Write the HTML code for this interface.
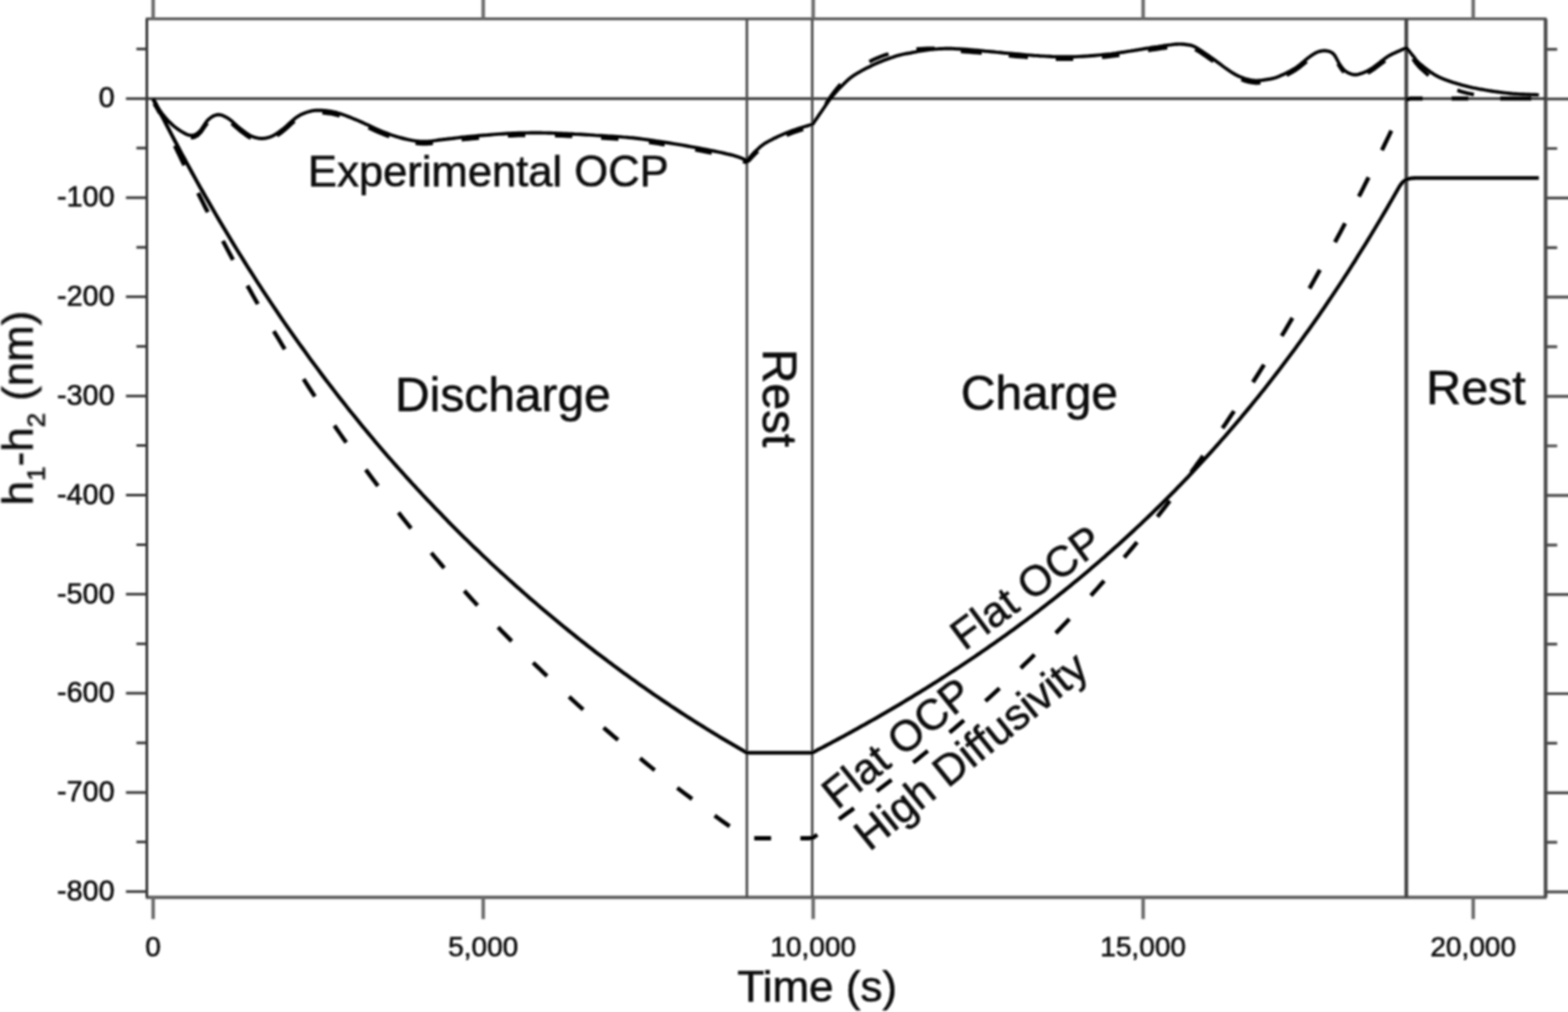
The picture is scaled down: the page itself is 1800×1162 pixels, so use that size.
<!DOCTYPE html>
<html lang="en"><head><meta charset="utf-8"><title>h1-h2 vs Time</title>
<style>
html,body{margin:0;padding:0;background:#fff;}
body{width:1800px;height:1162px;overflow:hidden;}
svg{display:block;}
text{font-family:"Liberation Sans",Arial,Helvetica,sans-serif;fill:#111111;stroke:#111111;stroke-width:0.7;}
.ax{stroke:#333333;stroke-width:3.0;fill:none;}
.thin{stroke:#333333;stroke-width:2.4;fill:none;}
.cv{stroke:#000000;stroke-width:4.3;fill:none;stroke-linejoin:round;stroke-linecap:butt;}
.tk{font-size:33px;}
.lb{font-size:49px;}
.rg{font-size:55px;}
</style></head><body>
<svg width="1800" height="1162" viewBox="0 0 1800 1162">
<defs><filter id="b" filterUnits="userSpaceOnUse" x="-20" y="-20" width="1840" height="1202"><feGaussianBlur stdDeviation="1.1"/></filter></defs>
<rect width="1800" height="1162" fill="#fff"/>
<g filter="url(#b)">
<path d="M167.4,21.7 H1775.5" fill="none" stroke="#585858" stroke-width="3.3"/>
<path d="M167.4,1030.3 H1775.5" fill="none" stroke="#5a5a5a" stroke-width="3.8"/>
<path d="M168.6,21.7 V1030.3" fill="none" stroke="#303030" stroke-width="3.0"/>
<path d="M1774.3,21.7 V1030.3" fill="none" stroke="#484848" stroke-width="4.2"/>
<path d="M168.6,113.2 H1774.3" fill="none" stroke="#303030" stroke-width="3.0"/>
<path d="M175.8,-8 V21.7 M175.8,1030.3 V1055.2 M554.7,-8 V21.7 M554.7,1030.3 V1055.2 M933.5,-8 V21.7 M933.5,1030.3 V1055.2 M1312.3,-8 V21.7 M1312.3,1030.3 V1055.2 M1691.2,-8 V21.7 M1691.2,1030.3 V1055.2" fill="none" stroke="#6a6a6a" stroke-width="4.0"/>
<path d="M156.6,56.3 H168.6 M144.6,113.2 H168.6 M156.6,170.1 H168.6 M144.6,227.0 H168.6 M156.6,283.9 H168.6 M144.6,340.8 H168.6 M156.6,397.7 H168.6 M144.6,454.7 H168.6 M156.6,511.6 H168.6 M144.6,568.5 H168.6 M156.6,625.4 H168.6 M144.6,682.3 H168.6 M156.6,739.2 H168.6 M144.6,796.1 H168.6 M156.6,853.0 H168.6 M144.6,909.9 H168.6 M156.6,966.8 H168.6 M144.6,1023.8 H168.6" fill="none" stroke="#383838" stroke-width="3.0"/>
<path d="M1774.3,56.7 H1787.6 M1774.3,113.6 H1808 M1774.3,170.5 H1787.6 M1774.3,227.4 H1808 M1774.3,284.3 H1787.6 M1774.3,341.2 H1808 M1774.3,398.1 H1787.6 M1774.3,455.1 H1808 M1774.3,512.0 H1787.6 M1774.3,568.9 H1808 M1774.3,625.8 H1787.6 M1774.3,682.7 H1808 M1774.3,739.6 H1787.6 M1774.3,796.5 H1808 M1774.3,853.4 H1787.6 M1774.3,910.3 H1808 M1774.3,967.2 H1787.6 M1774.3,1024.2 H1808" fill="none" stroke="#484848" stroke-width="3.2"/>
<path d="M857.4,21.7 V1030.3 M932.4,21.7 V1030.3" fill="none" stroke="#505050" stroke-width="3.0"/>
<path d="M1614.4,21.7 V1030.3" fill="none" stroke="#404040" stroke-width="4.2"/>
<text class="tk" x="131.5" y="123.4" text-anchor="end">0</text>
<text class="tk" x="131.5" y="237.2" text-anchor="end">-100</text>
<text class="tk" x="131.5" y="351.0" text-anchor="end">-200</text>
<text class="tk" x="131.5" y="464.9" text-anchor="end">-300</text>
<text class="tk" x="131.5" y="578.7" text-anchor="end">-400</text>
<text class="tk" x="131.5" y="692.5" text-anchor="end">-500</text>
<text class="tk" x="131.5" y="806.3" text-anchor="end">-600</text>
<text class="tk" x="131.5" y="920.1" text-anchor="end">-700</text>
<text class="tk" x="131.5" y="1034.0" text-anchor="end">-800</text>
<text class="tk" x="175.8" y="1097.5" text-anchor="middle" style="font-size:32.2px">0</text>
<text class="tk" x="554.7" y="1097.5" text-anchor="middle" style="font-size:32.2px">5,000</text>
<text class="tk" x="933.5" y="1097.5" text-anchor="middle" style="font-size:32.2px">10,000</text>
<text class="tk" x="1312.3" y="1097.5" text-anchor="middle" style="font-size:32.2px">15,000</text>
<text class="tk" x="1691.2" y="1097.5" text-anchor="middle" style="font-size:32.2px">20,000</text>
<text class="lb" x="938.2" y="1150.2" text-anchor="middle" style="font-size:50.5px">Time (s)</text>
<text class="lb" transform="translate(37.5,468.5) rotate(-90)" text-anchor="middle" style="font-size:50.3px">h<tspan font-size="30" dy="13.5">1</tspan><tspan dy="-13.5">-h</tspan><tspan font-size="30" dy="13.5">2</tspan><tspan dy="-13.5"> (nm)</tspan></text>
<text class="lb" x="353.6" y="214.2" style="font-size:50px">Experimental OCP</text>
<text class="rg" x="453.5" y="472">Discharge</text>
<text class="rg" x="1103" y="469.7">Charge</text>
<text class="rg" x="1637.3" y="463.7" style="font-size:55.5px">Rest</text>
<text class="rg" transform="translate(876,400.5) rotate(90)">Rest</text>
<text class="lb" transform="translate(1107,748) rotate(-36.5)">Flat OCP</text>
<text class="lb" transform="translate(961,930.5) rotate(-39)" style="font-size:49.6px">Flat OCP</text>
<text class="lb" transform="translate(998,978.3) rotate(-39)" style="font-size:49.6px">High Diffusivity</text>
<path class="cv" d="M175.8,113.2L178.8,119.2L181.8,125.1L184.8,131.0L187.8,136.9L190.8,142.7L193.8,148.5L196.8,154.2L199.8,159.9L202.8,165.6L205.8,171.3L208.8,176.9L211.8,182.4L214.8,188.0L217.8,193.4L220.8,198.9L223.8,204.3L226.8,209.7L229.8,215.1L232.9,220.4L235.9,225.7L238.9,230.9L241.9,236.1L244.9,241.3L247.9,246.5L250.9,251.6L253.9,256.7L256.9,261.7L259.9,266.7L262.9,271.7L265.9,276.7L268.9,281.6L271.9,286.5L274.9,291.4L277.9,296.2L280.9,301.0L283.9,305.8L286.9,310.5L289.9,315.2L292.9,319.9L295.9,324.6L298.9,329.2L301.9,333.8L304.9,338.4L307.9,342.9L310.9,347.4L313.9,351.9L316.9,356.3L319.9,360.8L322.9,365.2L325.9,369.6L328.9,373.9L331.9,378.2L334.9,382.5L337.9,386.8L340.9,391.0L343.9,395.2L347.0,399.4L350.0,403.6L353.0,407.7L356.0,411.9L359.0,416.0L362.0,420.0L365.0,424.1L368.0,428.1L371.0,432.1L374.0,436.1L377.0,440.0L380.0,443.9L383.0,447.8L386.0,451.7L389.0,455.6L392.0,459.4L395.0,463.2L398.0,467.0L401.0,470.8L404.0,474.5L407.0,478.2L410.0,481.9L413.0,485.6L416.0,489.3L419.0,492.9L422.0,496.5L425.0,500.1L428.0,503.7L431.0,507.3L434.0,510.8L437.0,514.3L440.0,517.8L443.0,521.3L446.0,524.8L449.0,528.2L452.0,531.6L455.0,535.0L458.0,538.4L461.1,541.8L464.1,545.1L467.1,548.5L470.1,551.8L473.1,555.1L476.1,558.3L479.1,561.6L482.1,564.8L485.1,568.1L488.1,571.3L491.1,574.5L494.1,577.6L497.1,580.8L500.1,583.9L503.1,587.0L506.1,590.1L509.1,593.2L512.1,596.3L515.1,599.4L518.1,602.4L521.1,605.4L524.1,608.4L527.1,611.4L530.1,614.4L533.1,617.4L536.1,620.3L539.1,623.2L542.1,626.2L545.1,629.1L548.1,631.9L551.1,634.8L554.1,637.7L557.1,640.5L560.1,643.3L563.1,646.2L566.1,649.0L569.1,651.8L572.1,654.5L575.2,657.3L578.2,660.0L581.2,662.8L584.2,665.5L587.2,668.2L590.2,670.9L593.2,673.6L596.2,676.2L599.2,678.9L602.2,681.5L605.2,684.1L608.2,686.8L611.2,689.4L614.2,691.9L617.2,694.5L620.2,697.1L623.2,699.6L626.2,702.2L629.2,704.7L632.2,707.2L635.2,709.7L638.2,712.2L641.2,714.7L644.2,717.2L647.2,719.6L650.2,722.0L653.2,724.5L656.2,726.9L659.2,729.3L662.2,731.7L665.2,734.1L668.2,736.5L671.2,738.8L674.2,741.2L677.2,743.5L680.2,745.8L683.2,748.2L686.2,750.5L689.3,752.8L692.3,755.0L695.3,757.3L698.3,759.6L701.3,761.8L704.3,764.1L707.3,766.3L710.3,768.5L713.3,770.7L716.3,772.9L719.3,775.1L722.3,777.3L725.3,779.4L728.3,781.6L731.3,783.7L734.3,785.9L737.3,788.0L740.3,790.1L743.3,792.2L746.3,794.3L749.3,796.4L752.3,798.5L755.3,800.5L758.3,802.6L761.3,804.6L764.3,806.6L767.3,808.6L770.3,810.7L773.3,812.6L776.3,814.6L779.3,816.6L782.3,818.6L785.3,820.5L788.3,822.5L791.3,824.4L794.3,826.3L797.3,828.2L800.3,830.1L803.4,832.0L806.4,833.9L809.4,835.8L812.4,837.7L815.4,839.5L818.4,841.3L821.4,843.2L824.4,845.0L827.4,846.8L830.4,848.6L833.4,850.4L836.4,852.2L839.4,853.9L842.4,855.7L845.4,857.4L848.4,859.2L851.4,860.9L854.4,862.6L857.4,864.3L857.4,864.3L932.4,864.3L935.4,862.8L938.4,861.2L941.4,859.6L944.4,858.1L947.4,856.5L950.4,854.9L953.4,853.3L956.4,851.7L959.4,850.1L962.4,848.5L965.4,846.9L968.4,845.3L971.4,843.7L974.4,842.0L977.4,840.4L980.4,838.7L983.3,837.1L986.3,835.4L989.3,833.7L992.3,832.1L995.3,830.4L998.3,828.7L1001.3,827.0L1004.3,825.3L1007.3,823.6L1010.3,821.8L1013.3,820.1L1016.3,818.4L1019.3,816.6L1022.3,814.9L1025.3,813.1L1028.3,811.3L1031.3,809.6L1034.3,807.8L1037.3,806.0L1040.3,804.2L1043.3,802.4L1046.3,800.6L1049.3,798.7L1052.3,796.9L1055.3,795.1L1058.3,793.2L1061.3,791.4L1064.3,789.5L1067.3,787.6L1070.3,785.7L1073.3,783.9L1076.3,782.0L1079.2,780.1L1082.2,778.1L1085.2,776.2L1088.2,774.3L1091.2,772.3L1094.2,770.4L1097.2,768.4L1100.2,766.5L1103.2,764.5L1106.2,762.5L1109.2,760.5L1112.2,758.5L1115.2,756.5L1118.2,754.5L1121.2,752.4L1124.2,750.4L1127.2,748.3L1130.2,746.3L1133.2,744.2L1136.2,742.1L1139.2,740.0L1142.2,737.9L1145.2,735.8L1148.2,733.7L1151.2,731.6L1154.2,729.4L1157.2,727.3L1160.2,725.1L1163.2,722.9L1166.2,720.7L1169.2,718.5L1172.2,716.3L1175.1,714.1L1178.1,711.9L1181.1,709.6L1184.1,707.4L1187.1,705.1L1190.1,702.9L1193.1,700.6L1196.1,698.3L1199.1,696.0L1202.1,693.6L1205.1,691.3L1208.1,689.0L1211.1,686.6L1214.1,684.2L1217.1,681.8L1220.1,679.5L1223.1,677.0L1226.1,674.6L1229.1,672.2L1232.1,669.7L1235.1,667.3L1238.1,664.8L1241.1,662.3L1244.1,659.8L1247.1,657.3L1250.1,654.8L1253.1,652.2L1256.1,649.7L1259.1,647.1L1262.1,644.5L1265.1,641.9L1268.1,639.3L1271.0,636.7L1274.0,634.1L1277.0,631.4L1280.0,628.7L1283.0,626.1L1286.0,623.4L1289.0,620.6L1292.0,617.9L1295.0,615.2L1298.0,612.4L1301.0,609.6L1304.0,606.8L1307.0,604.0L1310.0,601.2L1313.0,598.3L1316.0,595.5L1319.0,592.6L1322.0,589.7L1325.0,586.8L1328.0,583.9L1331.0,580.9L1334.0,578.0L1337.0,575.0L1340.0,572.0L1343.0,569.0L1346.0,566.0L1349.0,562.9L1352.0,559.8L1355.0,556.8L1358.0,553.6L1361.0,550.5L1364.0,547.4L1366.9,544.2L1369.9,541.0L1372.9,537.8L1375.9,534.6L1378.9,531.4L1381.9,528.1L1384.9,524.8L1387.9,521.5L1390.9,518.2L1393.9,514.9L1396.9,511.5L1399.9,508.1L1402.9,504.7L1405.9,501.3L1408.9,497.8L1411.9,494.4L1414.9,490.9L1417.9,487.4L1420.9,483.8L1423.9,480.3L1426.9,476.7L1429.9,473.1L1432.9,469.5L1435.9,465.8L1438.9,462.2L1441.9,458.5L1444.9,454.8L1447.9,451.0L1450.9,447.3L1453.9,443.5L1456.9,439.7L1459.9,435.8L1462.8,432.0L1465.8,428.1L1468.8,424.2L1471.8,420.2L1474.8,416.3L1477.8,412.3L1480.8,408.3L1483.8,404.2L1486.8,400.2L1489.8,396.1L1492.8,392.0L1495.8,387.8L1498.8,383.6L1501.8,379.4L1504.8,375.2L1507.8,371.0L1510.8,366.7L1513.8,362.4L1516.8,358.0L1519.8,353.7L1522.8,349.3L1525.8,344.8L1528.8,340.4L1531.8,335.9L1534.8,331.4L1537.8,326.9L1540.8,322.3L1543.8,317.7L1546.8,313.1L1549.8,308.4L1552.8,303.7L1555.8,299.0L1558.7,294.2L1561.7,289.4L1564.7,284.6L1567.7,279.8L1570.7,274.9L1573.7,270.0L1576.7,265.0L1579.7,260.0L1582.7,255.0L1585.7,250.0L1588.7,244.9L1591.7,239.8L1594.7,234.6L1597.7,229.5L1600.7,224.2L1603.7,219.0L1606.7,213.7L1607.2,213.1L1607.8,212.3L1608.5,211.3L1609.4,210.3L1610.2,209.3L1611.0,208.5L1611.8,207.9L1612.5,207.3L1613.3,206.8L1614.2,206.3L1615.0,206.0L1616.0,205.6L1617.0,205.3L1618.1,205.1L1619.2,204.9L1620.4,204.7L1621.7,204.6L1623.0,204.5L1624.5,204.4L1626.2,204.4L1627.9,204.3L1629.6,204.3L1631.0,204.3L1632.0,204.3L1766.5,204.3"/>
<path class="cv" style="stroke-width:4.8" d="M177.8,117.6L179.2,120.6L180.5,123.6L181.8,126.5L183.2,129.5 M200.8,167.2L203.5,172.9L206.2,178.5L208.9,184.1L211.6,189.7 M227.4,221.7L230.2,227.2L233.0,232.8L235.8,238.3L238.6,243.7 M255.9,276.7L258.8,282.2L261.7,287.6L264.6,293.0L267.5,298.4 M284.0,328.0L287.0,333.3L290.0,338.6L293.0,343.9L296.0,349.1 M314.3,380.2L317.5,385.4L320.6,390.6L323.7,395.7L326.9,400.9 M348.5,435.3L351.7,440.3L355.0,445.4L358.3,450.4L361.5,455.3 M383.9,488.7L387.3,493.6L390.7,498.5L394.1,503.3L397.5,508.1 M419.9,539.3L423.4,544.0L426.9,548.7L430.4,553.4L433.9,558.0 M457.5,588.6L461.1,593.2L464.7,597.7L468.3,602.2L471.9,606.7 M495.1,634.8L498.8,639.2L502.5,643.5L506.2,647.9L509.9,652.2 M533.0,678.3L536.8,682.6L540.6,686.8L544.4,691.0L548.2,695.1 M571.8,720.2L575.7,724.3L579.6,728.3L583.5,732.3L587.4,736.3 M612.0,760.9L616.0,764.8L620.0,768.6L624.0,772.5L628.0,776.3 M653.3,800.0L657.3,803.8L661.4,807.5L665.5,811.2L669.5,814.8 M692.9,835.5L697.1,839.1L701.2,842.6L705.3,846.2L709.5,849.7 M734.8,870.7L739.0,874.2L743.2,877.6L747.4,881.0L751.6,884.3 M777.5,904.6L781.7,907.8L786.0,911.1L790.3,914.3L794.5,917.5 M820.4,936.5L824.7,939.6L829.0,942.7L833.3,945.8L837.6,948.8 M865.8,962.5L870.6,962.5L875.5,962.5L880.4,962.5L885.2,962.5 M918.8,962.5L923.6,962.5L928.5,962.5L933.4,961.8L938.2,958.4 M963.1,940.6L967.4,937.5L971.7,934.3L976.0,931.2L980.3,928.0 M1006.5,908.4L1010.7,905.1L1015.0,901.9L1019.3,898.6L1023.5,895.3 M1048.3,875.7L1052.5,872.3L1056.7,868.9L1060.9,865.5L1065.1,862.1 M1090.0,841.2L1094.2,837.7L1098.3,834.1L1102.4,830.6L1106.6,827.0 M1131.2,805.1L1135.2,801.4L1139.3,797.7L1143.4,794.0L1147.4,790.2 M1171.8,767.2L1175.7,763.3L1179.7,759.5L1183.7,755.6L1187.6,751.6 M1212.0,727.0L1215.9,723.0L1219.8,718.9L1223.7,714.8L1227.6,710.7 M1252.3,683.9L1256.1,679.7L1259.9,675.5L1263.7,671.2L1267.5,666.9 M1290.5,640.1L1294.2,635.8L1297.9,631.4L1301.6,626.9L1305.3,622.5 M1328.7,593.4L1332.2,588.8L1335.8,584.3L1339.4,579.6L1342.9,575.0 M1367.3,542.5L1370.8,537.8L1374.2,533.0L1377.6,528.3L1381.1,523.5 M1403.3,491.6L1406.7,486.8L1410.0,481.9L1413.3,476.9L1416.7,472.0 M1438.3,438.9L1441.5,433.9L1444.7,428.9L1447.9,423.8L1451.1,418.7 M1471.3,385.8L1474.4,380.7L1477.5,375.5L1480.6,370.3L1483.7,365.0 M1503.2,331.2L1506.2,326.0L1509.2,320.6L1512.2,315.3L1515.2,309.9 M1532.5,278.1L1535.4,272.7L1538.3,267.3L1541.2,261.9L1544.1,256.4 M1559.9,225.7L1562.7,220.3L1565.5,214.7L1568.3,209.2L1571.1,203.6 M1586.4,172.5L1589.1,166.9L1591.8,161.3L1594.5,155.7L1597.2,150.0 M1613.8,114.5L1618.6,113.2L1623.5,113.2L1628.4,113.2L1633.2,113.2 M1666.3,113.2L1671.1,113.2L1676.0,113.2L1680.9,113.2L1685.7,113.2 M1722.0,113.2L1731.0,113.2L1740.0,113.2L1749.0,113.2L1758.0,113.2"/>
<path class="cv" style="stroke-width:3.9" d="M175.3,113.5L175.8,114.3L176.3,115.2L177.0,116.3L177.7,117.6L178.5,119.0L179.4,120.4L180.3,121.9L181.2,123.4L182.2,124.9L183.1,126.4L184.1,127.7L185.0,129.0L185.9,130.2L186.9,131.4L187.8,132.6L188.8,133.8L189.8,135.0L190.8,136.1L191.8,137.3L192.8,138.4L193.9,139.5L194.9,140.5L196.0,141.5L197.0,142.5L198.1,143.5L199.1,144.4L200.2,145.3L201.4,146.2L202.5,147.0L203.6,147.9L204.7,148.7L205.9,149.4L206.9,150.1L208.0,150.8L209.0,151.4L210.0,152.0L210.9,152.5L211.9,153.0L212.7,153.5L213.6,153.9L214.4,154.3L215.2,154.6L216.1,154.9L216.9,155.1L217.6,155.3L218.4,155.4L219.2,155.5L220.0,155.5L220.8,155.4L221.5,155.3L222.3,155.1L223.0,154.9L223.8,154.6L224.5,154.3L225.2,153.9L226.0,153.5L226.7,152.9L227.5,152.4L228.2,151.7L229.0,151.0L229.8,150.2L230.6,149.2L231.4,148.1L232.2,146.9L233.0,145.6L233.9,144.3L234.7,143.0L235.6,141.8L236.4,140.5L237.3,139.4L238.1,138.4L239.0,137.5L239.9,136.7L240.8,136.0L241.7,135.3L242.6,134.6L243.5,134.0L244.4,133.5L245.3,133.0L246.2,132.6L247.2,132.3L248.1,132.0L249.0,131.8L250.0,131.7L251.0,131.7L251.9,131.8L252.9,131.9L253.9,132.1L254.9,132.4L255.9,132.8L256.9,133.2L257.9,133.7L258.9,134.2L259.9,134.8L261.0,135.4L262.0,136.0L263.0,136.7L264.1,137.5L265.2,138.3L266.3,139.2L267.3,140.2L268.4,141.2L269.5,142.2L270.6,143.2L271.7,144.2L272.8,145.2L273.9,146.1L275.0,147.0L276.1,147.8L277.2,148.7L278.3,149.5L279.4,150.4L280.5,151.2L281.6,152.0L282.7,152.8L283.7,153.5L284.8,154.2L285.9,154.9L287.0,155.5L288.0,156.0L289.0,156.5L290.1,156.9L291.1,157.3L292.1,157.6L293.1,158.0L294.1,158.2L295.1,158.4L296.0,158.6L297.0,158.8L298.0,158.9L299.0,159.0L300.0,159.0L301.0,159.0L302.0,159.0L303.0,158.9L304.0,158.8L304.9,158.7L305.9,158.5L306.9,158.2L307.9,158.0L308.9,157.7L309.9,157.3L311.0,156.9L312.0,156.5L313.0,156.0L314.1,155.5L315.1,154.9L316.2,154.3L317.2,153.6L318.3,152.9L319.4,152.2L320.5,151.4L321.6,150.6L322.7,149.7L323.8,148.9L325.0,148.0L326.2,147.1L327.4,146.0L328.7,144.9L330.0,143.7L331.3,142.5L332.6,141.3L333.9,140.1L335.1,139.0L336.4,137.9L337.7,136.8L338.8,135.9L340.0,135.0L341.1,134.2L342.2,133.6L343.2,132.9L344.2,132.3L345.2,131.8L346.1,131.3L347.1,130.9L348.0,130.5L349.0,130.1L350.0,129.7L351.0,129.3L352.0,129.0L353.0,128.7L354.0,128.3L355.0,128.1L356.0,127.8L357.0,127.5L358.0,127.3L359.0,127.1L360.1,127.0L361.2,126.9L362.4,126.8L363.7,126.7L365.0,126.7L366.4,126.7L367.9,126.7L369.4,126.8L371.0,126.9L372.6,127.0L374.2,127.1L376.0,127.3L377.7,127.6L379.5,127.8L381.3,128.2L383.1,128.6L385.0,129.0L386.9,129.5L388.8,130.1L390.8,130.7L392.8,131.3L394.8,132.0L396.9,132.8L399.0,133.6L401.1,134.4L403.3,135.3L405.5,136.2L407.7,137.1L410.0,138.0L412.3,139.0L414.8,140.1L417.3,141.2L419.8,142.4L422.4,143.6L425.0,144.8L427.6,146.0L430.2,147.2L432.7,148.4L435.2,149.5L437.7,150.6L440.0,151.5L442.3,152.4L444.5,153.2L446.7,154.0L448.8,154.8L450.9,155.5L453.0,156.2L455.1,156.8L457.1,157.4L459.1,158.0L461.1,158.5L463.0,159.0L465.0,159.5L466.9,159.9L468.8,160.4L470.6,160.7L472.4,161.1L474.2,161.4L476.0,161.7L477.7,161.9L479.5,162.1L481.2,162.3L483.0,162.4L484.8,162.5L486.7,162.5L488.6,162.5L490.4,162.4L492.3,162.3L494.1,162.1L496.0,161.9L497.8,161.6L499.7,161.4L501.7,161.1L503.7,160.8L505.7,160.5L507.8,160.3L510.0,160.0L512.2,159.8L514.5,159.5L516.8,159.2L519.1,159.0L521.5,158.7L524.0,158.4L526.5,158.1L529.0,157.8L531.6,157.5L534.3,157.3L537.1,157.0L540.0,156.7L543.0,156.4L546.1,156.1L549.4,155.8L552.8,155.5L556.2,155.2L559.7,155.0L563.2,154.7L566.7,154.4L570.1,154.1L573.5,153.9L576.8,153.7L580.0,153.5L583.1,153.3L586.1,153.2L589.1,153.0L592.0,152.9L594.9,152.8L597.8,152.7L600.7,152.7L603.5,152.6L606.4,152.6L609.2,152.5L612.1,152.5L615.0,152.5L617.9,152.5L620.8,152.5L623.6,152.6L626.5,152.6L629.3,152.7L632.2,152.8L635.1,152.9L638.0,153.0L640.9,153.1L643.9,153.2L646.9,153.4L650.0,153.5L653.2,153.6L656.4,153.8L659.6,154.0L663.0,154.1L666.3,154.3L669.7,154.5L673.1,154.7L676.5,154.9L679.9,155.1L683.3,155.4L686.7,155.6L690.0,155.8L693.3,156.0L696.5,156.2L699.6,156.4L702.7,156.5L705.8,156.7L708.9,156.9L712.1,157.1L715.3,157.4L718.7,157.6L722.3,158.0L726.0,158.3L730.0,158.8L734.2,159.3L738.7,159.9L743.4,160.5L748.3,161.2L753.3,162.0L758.4,162.7L763.5,163.5L768.6,164.3L773.6,165.1L778.6,165.9L783.4,166.7L788.0,167.5L792.5,168.3L797.1,169.1L801.8,170.0L806.4,170.9L810.9,171.7L815.4,172.6L819.7,173.5L823.9,174.4L827.8,175.2L831.5,176.0L834.9,176.8L838.0,177.5L840.8,178.2L843.2,178.9L845.5,179.6L847.5,180.2L849.3,180.9L850.9,181.5L852.3,182.1L853.6,182.6L854.7,183.1L855.7,183.5L856.7,183.9L857.5,184.2L858.0,183.7L858.6,183.0L859.4,182.1L860.2,181.2L861.1,180.2L862.0,179.2L863.0,178.1L864.0,177.0L865.0,175.9L866.0,174.9L867.0,173.9L868.0,173.0L868.9,172.2L869.8,171.3L870.6,170.6L871.4,169.8L872.2,169.0L873.1,168.3L874.0,167.5L875.0,166.8L876.1,166.0L877.2,165.2L878.5,164.4L880.0,163.5L881.6,162.6L883.4,161.6L885.3,160.7L887.3,159.6L889.3,158.6L891.5,157.6L893.7,156.5L896.0,155.5L898.2,154.5L900.5,153.5L902.8,152.6L905.0,151.7L907.3,150.8L909.8,149.9L912.4,149.0L915.1,148.1L917.9,147.2L920.6,146.4L923.2,145.5L925.6,144.8L927.9,144.1L929.9,143.5L931.6,142.9L933.0,142.5L933.5,141.8L934.1,140.9L934.8,139.9L935.6,138.7L936.4,137.5L937.4,136.2L938.3,134.8L939.3,133.4L940.2,132.0L941.2,130.6L942.1,129.3L943.0,128.0L943.8,126.8L944.7,125.5L945.5,124.3L946.4,123.1L947.2,121.8L948.0,120.6L948.9,119.3L949.8,118.1L950.6,116.9L951.5,115.7L952.4,114.5L953.3,113.3L954.2,112.1L955.1,111.0L956.0,109.9L957.0,108.8L957.9,107.7L958.9,106.6L959.8,105.5L960.8,104.4L961.8,103.3L962.8,102.2L963.9,101.1L965.0,100.0L966.1,98.9L967.2,97.8L968.3,96.7L969.4,95.6L970.5,94.5L971.7,93.4L972.9,92.2L974.1,91.1L975.5,90.0L976.9,88.9L978.4,87.8L980.0,86.7L981.7,85.6L983.6,84.4L985.6,83.3L987.6,82.1L989.7,80.9L991.9,79.7L994.1,78.6L996.3,77.5L998.6,76.4L1000.7,75.3L1002.9,74.3L1005.0,73.3L1007.1,72.4L1009.2,71.5L1011.4,70.6L1013.5,69.7L1015.7,68.9L1017.8,68.1L1020.0,67.4L1022.0,66.7L1024.0,66.0L1025.9,65.3L1027.8,64.7L1029.5,64.2L1031.1,63.7L1032.6,63.3L1033.9,63.0L1035.2,62.6L1036.4,62.4L1037.5,62.2L1038.7,61.9L1039.8,61.7L1041.0,61.5L1042.3,61.3L1043.6,61.1L1045.0,60.8L1046.5,60.5L1048.1,60.2L1049.6,59.9L1051.3,59.6L1052.9,59.2L1054.6,58.9L1056.3,58.6L1058.0,58.3L1059.8,58.0L1061.5,57.8L1063.3,57.5L1065.0,57.3L1066.7,57.1L1068.5,56.9L1070.3,56.7L1072.0,56.6L1073.8,56.4L1075.6,56.3L1077.5,56.1L1079.3,56.0L1081.1,56.0L1083.0,55.9L1084.8,55.8L1086.7,55.8L1088.6,55.8L1090.5,55.8L1092.3,55.8L1094.2,55.9L1096.1,56.0L1098.0,56.1L1100.0,56.2L1101.9,56.3L1103.9,56.4L1105.9,56.5L1107.9,56.7L1110.0,56.8L1112.0,56.9L1114.0,57.1L1115.9,57.3L1117.8,57.4L1119.7,57.6L1121.7,57.8L1123.8,58.0L1125.9,58.2L1128.3,58.4L1130.9,58.7L1133.6,58.9L1136.7,59.2L1140.1,59.5L1143.8,59.9L1147.8,60.2L1152.0,60.7L1156.3,61.1L1160.8,61.5L1165.3,61.9L1169.8,62.3L1174.3,62.7L1178.6,63.1L1182.8,63.4L1186.7,63.7L1190.4,63.9L1194.1,64.2L1197.6,64.4L1201.1,64.6L1204.5,64.8L1207.9,65.0L1211.2,65.1L1214.5,65.2L1217.8,65.3L1221.2,65.3L1224.6,65.3L1228.0,65.3L1231.5,65.2L1235.1,65.1L1238.7,64.9L1242.4,64.7L1246.1,64.5L1249.7,64.3L1253.3,64.0L1256.9,63.7L1260.3,63.4L1263.7,63.1L1266.9,62.8L1270.0,62.5L1272.9,62.2L1275.8,61.9L1278.5,61.5L1281.1,61.2L1283.6,60.8L1286.1,60.4L1288.5,60.0L1290.8,59.7L1293.1,59.3L1295.4,58.9L1297.7,58.6L1300.0,58.2L1302.3,57.9L1304.5,57.5L1306.6,57.2L1308.7,56.8L1310.8,56.5L1312.8,56.1L1314.8,55.8L1316.9,55.5L1318.9,55.2L1320.9,54.8L1322.9,54.5L1325.0,54.2L1327.1,53.9L1329.3,53.6L1331.6,53.2L1333.8,52.9L1336.1,52.5L1338.3,52.2L1340.5,51.9L1342.6,51.6L1344.7,51.4L1346.6,51.1L1348.4,50.9L1350.0,50.8L1351.5,50.7L1352.8,50.6L1354.0,50.6L1355.0,50.6L1356.0,50.6L1356.9,50.7L1357.8,50.7L1358.6,50.8L1359.4,50.9L1360.3,51.0L1361.1,51.2L1362.0,51.3L1362.9,51.4L1363.7,51.5L1364.5,51.6L1365.2,51.7L1365.9,51.8L1366.6,51.9L1367.4,52.1L1368.1,52.3L1369.0,52.6L1369.9,53.0L1370.9,53.4L1372.0,54.0L1373.2,54.6L1374.5,55.4L1375.8,56.2L1377.2,57.1L1378.7,58.0L1380.2,59.0L1381.7,60.1L1383.3,61.2L1385.0,62.3L1386.6,63.4L1388.3,64.6L1390.0,65.8L1391.8,67.1L1393.6,68.4L1395.6,69.9L1397.6,71.4L1399.7,72.9L1401.8,74.4L1403.8,76.0L1405.8,77.5L1407.8,78.9L1409.6,80.2L1411.4,81.4L1413.0,82.5L1414.5,83.4L1415.9,84.3L1417.2,85.0L1418.4,85.7L1419.5,86.3L1420.6,86.9L1421.7,87.4L1422.7,87.8L1423.8,88.3L1424.8,88.7L1425.9,89.1L1427.0,89.5L1428.1,89.9L1429.2,90.3L1430.3,90.6L1431.4,90.9L1432.5,91.2L1433.6,91.5L1434.6,91.7L1435.7,91.9L1436.8,92.1L1437.8,92.3L1438.9,92.4L1440.0,92.5L1441.1,92.6L1442.2,92.6L1443.2,92.6L1444.3,92.5L1445.4,92.5L1446.5,92.4L1447.5,92.3L1448.6,92.1L1449.7,92.0L1450.8,91.8L1451.9,91.7L1453.0,91.5L1454.1,91.3L1455.2,91.2L1456.2,91.0L1457.3,90.8L1458.3,90.7L1459.4,90.5L1460.5,90.2L1461.6,90.0L1462.8,89.6L1464.0,89.3L1465.3,88.8L1466.7,88.3L1468.2,87.7L1469.7,87.1L1471.3,86.3L1473.0,85.6L1474.8,84.8L1476.5,83.9L1478.3,83.0L1480.1,82.1L1481.8,81.2L1483.5,80.2L1485.1,79.3L1486.7,78.3L1488.2,77.3L1489.7,76.2L1491.2,75.1L1492.7,74.0L1494.1,72.8L1495.5,71.6L1496.9,70.5L1498.2,69.3L1499.5,68.3L1500.7,67.2L1501.9,66.3L1503.0,65.5L1504.0,64.8L1504.9,64.1L1505.8,63.5L1506.6,63.0L1507.3,62.5L1508.0,62.1L1508.7,61.7L1509.3,61.3L1510.0,60.9L1510.6,60.6L1511.3,60.3L1512.0,60.0L1512.7,59.7L1513.4,59.5L1514.1,59.2L1514.8,59.0L1515.5,58.9L1516.1,58.7L1516.8,58.6L1517.4,58.5L1518.1,58.4L1518.7,58.4L1519.4,58.3L1520.0,58.3L1520.6,58.3L1521.2,58.3L1521.9,58.3L1522.5,58.4L1523.1,58.5L1523.7,58.5L1524.3,58.7L1524.9,58.8L1525.4,58.9L1526.0,59.1L1526.5,59.3L1527.0,59.5L1527.5,59.7L1527.9,59.9L1528.4,60.2L1528.8,60.4L1529.2,60.6L1529.6,60.9L1529.9,61.2L1530.3,61.6L1530.7,62.0L1531.1,62.4L1531.6,62.9L1532.0,63.5L1532.5,64.2L1532.9,64.9L1533.4,65.7L1533.9,66.6L1534.4,67.5L1534.9,68.5L1535.4,69.5L1535.9,70.4L1536.4,71.4L1536.9,72.3L1537.5,73.2L1538.0,74.0L1538.5,74.8L1539.1,75.5L1539.6,76.3L1540.1,77.0L1540.7,77.7L1541.2,78.4L1541.8,79.1L1542.4,79.7L1543.0,80.4L1543.6,80.9L1544.3,81.5L1545.0,82.0L1545.7,82.5L1546.5,82.9L1547.3,83.4L1548.1,83.8L1549.0,84.2L1549.8,84.5L1550.7,84.9L1551.6,85.1L1552.4,85.4L1553.3,85.6L1554.2,85.7L1555.0,85.8L1555.8,85.8L1556.7,85.8L1557.5,85.7L1558.3,85.6L1559.2,85.4L1560.0,85.2L1560.8,85.0L1561.7,84.7L1562.5,84.4L1563.3,84.1L1564.2,83.8L1565.0,83.5L1565.8,83.2L1566.6,82.9L1567.3,82.6L1568.0,82.3L1568.8,81.9L1569.5,81.6L1570.3,81.2L1571.1,80.7L1571.9,80.2L1572.9,79.7L1573.9,79.0L1575.0,78.3L1576.2,77.5L1577.6,76.5L1579.1,75.4L1580.6,74.2L1582.2,73.0L1583.9,71.7L1585.5,70.4L1587.1,69.2L1588.7,68.0L1590.3,66.9L1591.7,65.9L1593.0,65.0L1594.2,64.2L1595.4,63.6L1596.5,62.9L1597.5,62.4L1598.6,61.9L1599.5,61.4L1600.5,61.0L1601.4,60.6L1602.3,60.2L1603.2,59.8L1604.1,59.4L1605.0,59.0L1605.9,58.6L1606.8,58.2L1607.8,57.8L1608.7,57.4L1609.6,57.0L1610.5,56.6L1611.3,56.3L1612.1,56.0L1612.9,55.7L1613.5,55.4L1614.0,55.2L1614.5,55.0L1614.9,55.4L1615.3,56.0L1615.8,56.6L1616.4,57.3L1617.1,58.1L1617.8,58.9L1618.5,59.8L1619.2,60.6L1619.9,61.5L1620.6,62.4L1621.3,63.2L1622.0,64.0L1622.6,64.7L1623.2,65.5L1623.7,66.2L1624.2,66.9L1624.7,67.6L1625.2,68.3L1625.8,69.1L1626.4,69.8L1627.1,70.6L1628.0,71.5L1628.9,72.4L1630.0,73.3L1631.2,74.3L1632.6,75.4L1634.0,76.6L1635.6,77.9L1637.2,79.1L1638.9,80.4L1640.7,81.7L1642.5,83.0L1644.4,84.2L1646.2,85.4L1648.1,86.5L1650.0,87.5L1651.9,88.5L1653.9,89.4L1655.9,90.2L1658.0,91.1L1660.1,91.9L1662.2,92.6L1664.3,93.4L1666.5,94.1L1668.6,94.8L1670.8,95.4L1672.9,96.1L1675.0,96.7L1677.1,97.3L1679.1,97.9L1681.1,98.4L1683.0,98.9L1685.0,99.4L1687.0,99.9L1689.0,100.3L1691.1,100.8L1693.2,101.2L1695.4,101.6L1697.6,102.1L1700.0,102.5L1702.5,102.9L1705.0,103.4L1707.7,103.8L1710.4,104.3L1713.2,104.7L1716.0,105.1L1718.8,105.5L1721.7,105.9L1724.5,106.3L1727.4,106.6L1730.2,106.9L1733.0,107.2L1735.9,107.5L1738.9,107.7L1742.1,107.9L1745.4,108.1L1748.6,108.2L1751.8,108.4L1754.9,108.5L1757.8,108.6L1760.5,108.7L1762.8,108.8L1764.9,108.9L1766.5,109.0"/>
<path class="cv" style="stroke-width:4.2" d="M177.0,119.1L180.2,124.4L183.4,129.4L186.6,133.8L189.8,137.7L193.0,141.2 M219.0,158.2L222.8,157.7L226.6,155.7L230.4,152.1L234.2,146.5L238.0,141.3 M266.0,141.7L270.4,145.7L274.8,149.5L279.2,152.9L283.6,156.1L288.0,158.7 M318.0,155.8L322.0,153.0L326.0,149.9L330.0,146.4L334.0,142.7L338.0,139.2 M370.0,129.5L374.0,129.8L378.0,130.3L382.0,131.0L386.0,132.0L390.0,133.1 M423.0,146.6L427.8,148.8L432.6,151.0L437.4,153.1L442.2,155.0L447.0,156.8 M477.0,164.5L481.0,164.9L485.0,165.2L489.0,165.2L493.0,164.9L497.0,164.5 M530.0,160.4L534.0,160.0L538.0,159.6L542.0,159.2L546.0,158.8L550.0,158.5 M583.0,156.0L587.0,155.8L591.0,155.7L595.0,155.5L599.0,155.4L603.0,155.3 M637.0,155.7L641.0,155.8L645.0,156.0L649.0,156.2L653.0,156.3L657.0,156.5 M690.0,158.5L694.0,158.7L698.0,159.0L702.0,159.2L706.0,159.4L710.0,159.7 M745.0,163.5L748.6,164.0L752.2,164.5L755.8,165.0L759.4,165.6L763.0,166.1 M798.0,172.0L801.8,172.7L805.6,173.4L809.4,174.1L813.2,174.9L817.0,175.6 M853.0,185.0L856.4,186.5L859.8,184.3L863.2,180.6L866.6,177.1L870.0,173.8 M903.0,155.2L906.8,153.7L910.6,152.3L914.4,151.1L918.2,149.8L922.0,148.6 M948.0,119.4L951.4,114.1L954.8,109.3L958.2,104.8L961.6,100.6L965.0,96.6 M998.0,70.9L1002.4,68.7L1006.8,66.7L1011.2,64.9L1015.6,63.3L1020.0,61.9 M1052.0,56.4L1056.2,56.1L1060.4,55.8L1064.6,55.6L1068.8,55.6L1073.0,55.6 M1103.0,59.0L1107.8,59.4L1112.6,59.7L1117.4,60.1L1122.2,60.5L1127.0,61.0 M1158.0,63.9L1162.4,64.4L1166.8,64.8L1171.2,65.2L1175.6,65.5L1180.0,65.9 M1212.0,67.8L1216.0,67.9L1220.0,68.0L1224.0,68.0L1228.0,68.0L1232.0,67.9 M1265.0,65.7L1269.0,65.3L1273.0,64.9L1277.0,64.4L1281.0,63.9L1285.0,63.3 M1318.0,58.0L1322.4,57.3L1326.8,56.6L1331.2,56.0L1335.6,55.3L1340.0,54.7 M1372.0,56.7L1376.2,59.1L1380.4,61.9L1384.6,64.7L1388.8,67.7L1393.0,70.6 M1425.0,91.4L1429.4,93.0L1433.8,94.2L1438.2,95.0L1442.6,95.3L1447.0,95.0 M1477.0,86.4L1481.6,84.0L1486.2,81.3L1490.8,78.1L1495.4,74.4L1500.0,70.6 M1536.0,73.3L1537.4,75.7L1538.8,77.8L1540.2,79.8L1541.6,81.5L1543.0,83.0 M1570.0,84.0L1574.0,81.6L1578.0,78.9L1582.0,75.8L1586.0,72.8L1590.0,69.8 M1622.0,67.6L1625.6,72.7L1629.2,76.9L1632.8,80.3L1636.4,83.5L1640.0,86.6 M1673.0,103.6L1676.8,104.9L1680.6,106.0L1684.4,107.0L1688.2,107.8L1692.0,108.6"/>
</g>
</svg>
</body></html>
